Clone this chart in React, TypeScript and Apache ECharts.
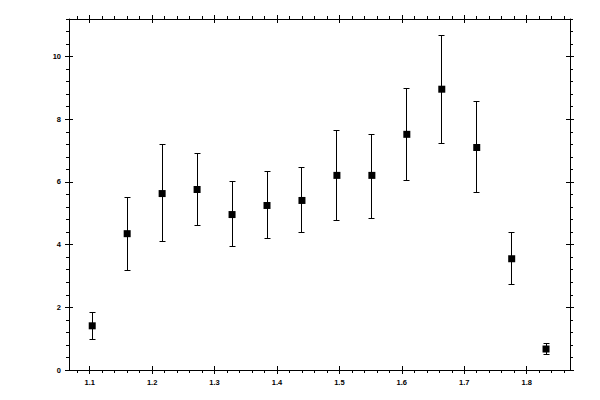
import React, { useEffect, useRef } from 'react'
import * as echarts from 'echarts'

/*==================================================================
    DATA
==================================================================*/
const xValues = [1.104, 1.16, 1.216, 1.272, 1.328, 1.384, 1.44, 1.496, 1.552, 1.608, 1.664, 1.72, 1.776, 1.831]
const yValues = [1.41, 4.35, 5.63, 5.76, 4.96, 5.25, 5.41, 6.21, 6.21, 7.52, 8.96, 7.1, 3.55, 0.67]
const yLow = [0.96, 3.17, 4.09, 4.61, 3.93, 4.19, 4.38, 4.77, 4.85, 6.05, 7.23, 5.66, 2.73, 0.51]
const yHigh = [1.84, 5.52, 7.19, 6.9, 6.0, 6.32, 6.45, 7.63, 7.5, 8.99, 10.67, 8.57, 4.38, 0.85]

const xMajorTicks = [1.1, 1.2, 1.3, 1.4, 1.5, 1.6, 1.7, 1.8]
const yMajorTicks = [0, 2, 4, 6, 8, 10]

const X_MIN = 1.0668
const X_MAX = 1.8694
const Y_MIN = 0
const Y_MAX = 11.2

/*==================================================================
    HELPERS
==================================================================*/
// minor tick positions between (and around) the major ticks
function minorTicks(majors: number[], count: number, min: number, max: number) {
  const step = (majors[1] - majors[0]) / count
  const out: number[] = []
  for (let i = -count; i <= majors.length * count; i++) {
    if (i % count === 0) continue
    const v = Math.round((majors[0] + i * step) * 1e6) / 1e6
    if (v >= min && v <= max) out.push(v)
  }
  return out
}

const xMinorTicks = minorTicks(xMajorTicks, 5, X_MIN, X_MAX)
const yMinorTicks = minorTicks(yMajorTicks, 5, Y_MIN, Y_MAX)

const LABEL = { color: '#000', fontFamily: 'Liberation Sans', fontSize: 7.5, fontWeight: 'bold' }
const LINE = { color: '#000', width: 1 }

function tickAxis(position: string, values: number[], length: number, inside: boolean, min: number, max: number, withLine = false) {
  return {
    type: 'value',
    position,
    min,
    max,
    gridIndex: 0,
    axisLine: { show: withLine, onZero: false, lineStyle: LINE },
    axisTick: { show: true, inside, length, customValues: values, lineStyle: LINE },
    axisLabel: { show: false },
    splitLine: { show: false },
  }
}

const crisp = (v: number) => Math.round(v - 0.5) + 0.5

/*==================================================================
    CHART
==================================================================*/
export default function App() {
  const ref = useRef<HTMLDivElement>(null)

  useEffect(() => {
    if (!ref.current) return
    const chart = echarts.init(ref.current, undefined, { renderer: 'svg' })

    const points = xValues.map((x, i) => [x, yValues[i]])
    const bars = xValues.map((x, i) => [x, yLow[i], yHigh[i]])

    chart.setOption({
      animation: false,
      backgroundColor: '#fff',
      grid: { left: 69, right: 30, top: 19, bottom: 30, outerBoundsMode: 'none' },
      xAxis: [
        {
          type: 'value',
          position: 'bottom',
          min: X_MIN,
          max: X_MAX,
          axisLine: { show: true, onZero: false, lineStyle: LINE },
          axisTick: { show: true, inside: false, length: 4, customValues: xMajorTicks, lineStyle: LINE },
          axisLabel: { ...LABEL, margin: 8, customValues: xMajorTicks, formatter: (v: number) => v.toFixed(1) },
          splitLine: { show: false },
        },
        tickAxis('bottom', xMajorTicks, 4, true, X_MIN, X_MAX),
        tickAxis('bottom', xMinorTicks, 3, false, X_MIN, X_MAX),
        tickAxis('top', xMajorTicks, 4, false, X_MIN, X_MAX, true),
        tickAxis('top', xMajorTicks, 4, true, X_MIN, X_MAX),
        tickAxis('top', xMinorTicks, 3, false, X_MIN, X_MAX),
      ],
      yAxis: [
        {
          type: 'value',
          position: 'left',
          min: Y_MIN,
          max: Y_MAX,
          axisLine: { show: true, onZero: false, lineStyle: LINE },
          axisTick: { show: true, inside: false, length: 4, customValues: yMajorTicks, lineStyle: LINE },
          axisLabel: { ...LABEL, margin: 8, customValues: yMajorTicks },
          splitLine: { show: false },
        },
        tickAxis('left', yMajorTicks, 4, true, Y_MIN, Y_MAX),
        tickAxis('left', yMinorTicks, 3, false, Y_MIN, Y_MAX),
        tickAxis('right', yMajorTicks, 4, false, Y_MIN, Y_MAX, true),
        tickAxis('right', yMajorTicks, 4, true, Y_MIN, Y_MAX),
        tickAxis('right', yMinorTicks, 3, false, Y_MIN, Y_MAX),
      ],
      series: [
        {
          type: 'custom',
          xAxisIndex: 0,
          yAxisIndex: 0,
          data: bars,
          encode: { x: 0, y: [1, 2] },
          renderItem: (_params: unknown, api: any) => {
            const x = api.value(0)
            const lo = api.coord([x, api.value(1)])
            const hi = api.coord([x, api.value(2)])
            const cx = crisp(lo[0])
            const yl = crisp(lo[1])
            const yh = crisp(hi[1])
            const cap = 3
            const style = { stroke: '#000', lineWidth: 1 }
            return {
              type: 'group',
              children: [
                { type: 'line', shape: { x1: cx, y1: yl, x2: cx, y2: yh }, style },
                { type: 'line', shape: { x1: cx - cap, y1: yh, x2: cx + cap, y2: yh }, style },
                { type: 'line', shape: { x1: cx - cap, y1: yl, x2: cx + cap, y2: yl }, style },
              ],
            }
          },
        },
        {
          type: 'scatter',
          xAxisIndex: 0,
          yAxisIndex: 0,
          symbol: 'rect',
          symbolSize: 7,
          itemStyle: { color: '#000', opacity: 1 },
          data: points,
          z: 3,
        },
      ],
    })

    return () => { chart.dispose() }
  }, [])

  return <div ref={ref} style={{ position: 'fixed', left: 0, top: 0, width: 600, height: 400 }} />
}
